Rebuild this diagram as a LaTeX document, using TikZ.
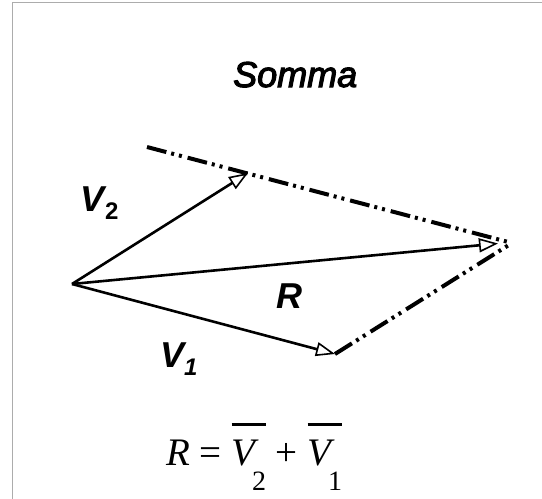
\documentclass[tikz,border=0pt]{standalone}
\usepackage{fontspec}
\setmainfont{Liberation Serif}
\setsansfont{Liberation Sans}
\newfontfamily\sommafont[ItalicFeatures={FakeBold=3}]{Liberation Sans}
\usepackage{tikz}
\usetikzlibrary{arrows.meta}

\newcommand{\barvec}[1]{\vbox{\hrule height 2.5pt\kern13.5pt\hbox{\textit{V}\kern-7pt\lower25pt\hbox{\fontsize{28}{30}\selectfont #1}}}}

\begin{document}
\begin{tikzpicture}[x=1pt, y=-1pt,
  vec/.style={line width=2.6pt, -{Triangle[open, length=19pt, width=14pt, line width=1.6pt]}},
  aux/.style={line width=4pt, dash pattern=on 20pt off 5pt on 3pt off 5pt on 3pt off 6pt},
  lbl/.style={inner sep=0pt, anchor=base west, font=\sffamily\bfseries\itshape\fontsize{36}{40}\selectfont}]
\useasboundingbox (0,0) rectangle (542,499);
% frame
\draw[gray!65, line width=1.5pt] (12.5,499) -- (12.5,2.5) -- (542,2.5);
% points
\coordinate (O) at (72,284);
\coordinate (v2) at (248,173);
\coordinate (v1) at (335,354);
\coordinate (sum) at (512,243);
\coordinate (rtip) at (498,243.5);
\coordinate (start) at (147,147);
% parallelogram sides
\draw[aux] (start) -- (sum);
\draw[aux] (v1) -- (sum);
% vectors
\draw[vec] (O) -- (v2);
\draw[vec] (O) -- (rtip);
\draw[vec] (O) -- (v1);
% labels
\node[inner sep=0pt, anchor=base west, font=\sommafont\itshape\fontsize{36}{40}\selectfont] (title) at (233,87) {Somma};
\node[lbl] (lv2) at (80,211) {V\kern1pt\raisebox{-8pt}{\fontsize{24}{26}\selectfont\upshape 2}};
\node[lbl] (lv1) at (160,367) {V\kern0pt\raisebox{-8pt}{\fontsize{24}{26}\selectfont 1}};
\node[lbl] (lr) at (276,308) {R};
\node[inner sep=0pt, anchor=base west, font=\fontsize{39}{42}\selectfont] (eq) at (166,465)
  {\textit{R} = \barvec{2} + \barvec{1}};
\end{tikzpicture}
\end{document}
